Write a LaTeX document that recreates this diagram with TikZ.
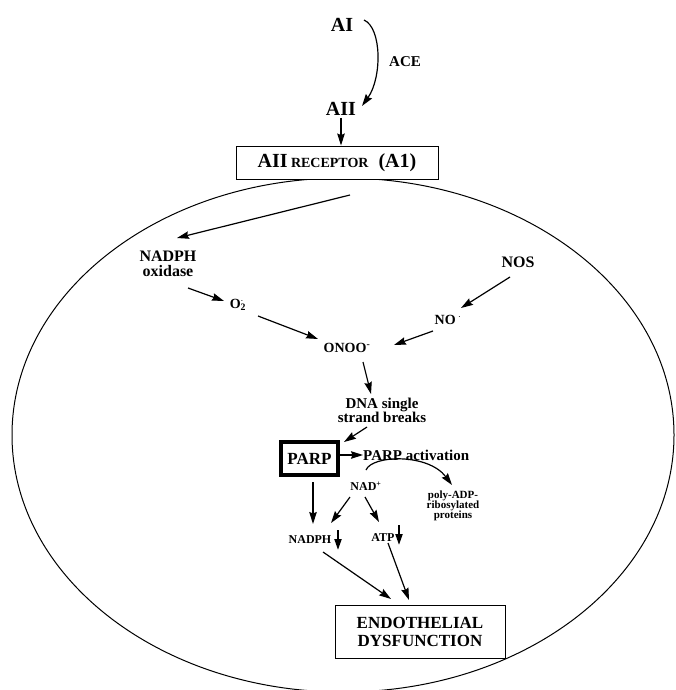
\documentclass[tikz,border=0pt]{standalone}
\usepackage{fontspec}
\setmainfont{Liberation Serif}
\usetikzlibrary{arrows.meta}
\begin{document}
\begin{tikzpicture}[x=1pt,y=-1pt,
  lbl/.style={font=\bfseries\fontsize{#1}{#1}\selectfont, inner sep=0pt, align=center},
  lbl/.default=15,
  arr/.style={line width=1.2pt, -{Stealth[length=12pt,width=7.5pt,inset=1.5pt]}},
  decr/.style={line width=2pt, -{Triangle[length=11pt,width=7pt]}},
  box/.style={draw, line width=0.9pt, inner sep=0pt}]
\useasboundingbox (0,0) rectangle (676,690);
% cell
\draw[line width=1pt] (343,435) ellipse [x radius=331, y radius=257];
% top
\node[lbl=20] (ai) at (342,25) {AI};
\node[lbl=20] (aii) at (341,109) {AII};
\node[lbl=15] (ace) at (405,62) {ACE};
\node[box, minimum width=202, minimum height=33, fill=white, lbl=20] (rec) at (337,162.5)
  {AII\,{\fontsize{14}{14}\selectfont RECEPTOR}\ \ (A1)};
\coordinate (aiout) at (364,20);
\coordinate (aiiin) at (362,106);
\draw[arr] (aiout) .. controls (382,28) and (382,78) .. (aiiin);
\draw[arr] (aii.south) ++(0,2) coordinate (aiis) -- (aiis |- rec.north);
% upper paths
\coordinate (topstart) at (350,195);
\node[lbl=16] (nadphox) at (168,264) {NADPH\\[-1pt]oxidase};
\coordinate (nadphin) at (177,238);
\draw[arr] (topstart) -- (nadphin);
\node[lbl=14] (o2) at (238,305) {O\rlap{\textsuperscript{$\cdot$}}\textsubscript{2}};
\node[lbl=14] (onoo) at (347,348) {ONOO\textsuperscript{-}};
\node[lbl=16] (nos) at (518,262) {NOS};
\node[lbl=14] (no) at (448,320) {NO\,\textsuperscript{$\cdot$}};
\coordinate (a1s) at (188,288); \coordinate (a1e) at (224,301);
\draw[arr] (a1s) -- (a1e);
\coordinate (a2s) at (258,316); \coordinate (a2e) at (318,339);
\draw[arr] (a2s) -- (a2e);
\coordinate (a3s) at (510,277); \coordinate (a3e) at (461,308);
\draw[arr] (a3s) -- (a3e);
\coordinate (a4s) at (433,331); \coordinate (a4e) at (394,345);
\draw[arr] (a4s) -- (a4e);
% DNA
\node[lbl=15] (dna) at (382,410) {DNA single\\[-1pt]strand breaks};
\coordinate (a5s) at (363,362); \coordinate (a5e) at (371,394);
\draw[arr] (a5s) -- (a5e);
% PARP
\node[draw, line width=4pt, minimum width=57, minimum height=33, inner sep=0pt,
  font=\bfseries\fontsize{17}{17}\selectfont] (parp) at (309.5,458.5) {PARP};
\coordinate (a6s) at (367,427); \coordinate (a6e) at (344,442);
\draw[arr] (a6s) -- (a6e);
\node[lbl=15, anchor=west] (parpact) at (363,455) {PARP activation};
\draw[arr] (parp.east |- parpact.west) -- (parpact.west);
\node[lbl=12] (nad) at (366,486) {NAD\textsuperscript{+}};
\node[lbl=11] (poly) at (453,506) {poly-ADP-\\[-1pt]ribosylated\\[-1pt]proteins};
\coordinate (cs) at (366,470); \coordinate (ce) at (452,485);
\draw[arr] (cs) .. controls (372,455) and (428,453) .. (ce);
\node[lbl=12] (nadph) at (310,540) {NADPH};
\node[lbl=12] (atp) at (383,538) {ATP};
\coordinate (a7s) at (313,482); \coordinate (a7e) at (313,524);
\draw[arr] (a7s) -- (a7e);
\coordinate (a8s) at (350,497); \coordinate (a8e) at (331,523);
\draw[arr] (a8s) -- (a8e);
\coordinate (a9s) at (365,497); \coordinate (a9e) at (379,522);
\draw[arr] (a9s) -- (a9e);
\coordinate (d1s) at (338,530); \coordinate (d1e) at (338,550);
\draw[decr] (d1s) -- (d1e);
\coordinate (d2s) at (399,525); \coordinate (d2e) at (399,545);
\draw[decr] (d2s) -- (d2e);
% ED
\node[box, minimum width=170, minimum height=53, lbl=17] (ed) at (420,631.5)
  {ENDOTHELIAL\\[1pt]DYSFUNCTION};
\coordinate (b1s) at (323,552); \coordinate (b1e) at (391,599);
\draw[arr] (b1s) -- (b1e);
\coordinate (b2s) at (388,543); \coordinate (b2e) at (409,600);
\draw[arr] (b2s) -- (b2e);
\end{tikzpicture}
\end{document}
